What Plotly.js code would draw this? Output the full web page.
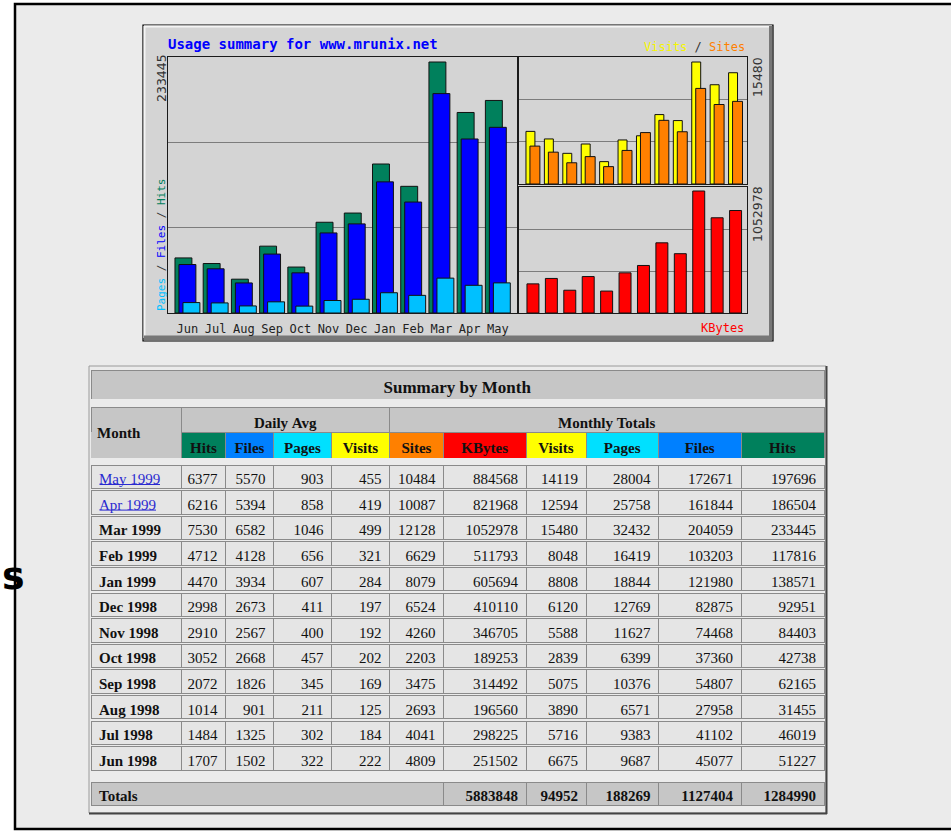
<!DOCTYPE html>
<html><head><meta charset="utf-8">
<script src="https://cdn.plot.ly/plotly-3.0.1.min.js"></script>
<style>html,body{margin:0;padding:0;background:#fff;overflow:hidden}#chart{width:951px;height:835px}</style>
</head><body><div id="chart"></div>
<script>
// ---- data (chart order: Jun 1998 .. May 1999) ----
const months = ['Jun','Jul','Aug','Sep','Oct','Nov','Dec','Jan','Feb','Mar','Apr','May'];
const hits   = [51227, 46019, 31455, 62165, 42738, 84403, 92951, 138571, 117816, 233445, 186504, 197696];
const files  = [45077, 41102, 27958, 54807, 37360, 74468, 82875, 121980, 103203, 204059, 161844, 172671];
const pages  = [9687, 9383, 6571, 10376, 6399, 11627, 12769, 18844, 16419, 32432, 25758, 28004];
const visits = [6675, 5716, 3890, 5075, 2839, 5588, 6120, 8808, 8048, 15480, 12594, 14119];
const sites  = [4809, 4041, 2693, 3475, 2203, 4260, 6524, 8079, 6629, 12128, 10087, 10484];
const kbytes = [251502, 298225, 196560, 314492, 189253, 346705, 410110, 605694, 511793, 1052978, 821968, 884568];

// ---- table data (table order: May 1999 .. Jun 1998) ----
const tableMonths = ['May 1999','Apr 1999','Mar 1999','Feb 1999','Jan 1999','Dec 1998','Nov 1998','Oct 1998','Sep 1998','Aug 1998','Jul 1998','Jun 1998'];
const linkedMonths = 2;
const dailyHits   = [6377, 6216, 7530, 4712, 4470, 2998, 2910, 3052, 2072, 1014, 1484, 1707];
const dailyFiles  = [5570, 5394, 6582, 4128, 3934, 2673, 2567, 2668, 1826, 901, 1325, 1502];
const dailyPages  = [903, 858, 1046, 656, 607, 411, 400, 457, 345, 211, 302, 322];
const dailyVisits = [455, 419, 499, 321, 284, 197, 192, 202, 169, 125, 184, 222];
const colHeaders = ['Hits','Files','Pages','Visits','Sites','KBytes','Visits','Pages','Files','Hits'];
const groupHeaders = ['Daily Avg','Monthly Totals'];
const totals = [5883848, 94952, 188269, 1127404, 1284990];
const chartTitle = 'Usage summary for www.mrunix.net';
const tableTitle = 'Summary by Month';

// ---- helpers ----
const W = 951, H = 835;
const fx = x => x / W, fy = y => 1 - y / H;
const idx = months.map((m, i) => i);
const rev = a => a.slice().reverse();
const nb = s => String(s).replace(/ /g, '\u00a0');
const MONO = 'DejaVu Sans Mono', SERIF = 'Liberation Serif';
const C = {hits:'#00805c', files:'#0000ff', pages:'#00c0ff', visits:'#ffff00', sites:'#ff8000', kb:'#ff0000',
           tFiles:'#0080ff', tPages:'#00e0ff', hdr:'#c6c6c6', cell:'#e5e5e5', page:'#ebebeb', line:'#8a8a8a',
           link:'#2a2ad0', text:'#111'};

const maxHits = Math.max(...hits), maxVisits = Math.max(...visits), maxKB = Math.max(...kbytes);
const barLine = {color:'#111', width:1};

function bar(y, xa, ya, off, w, color) {
  return {type:'bar', x: idx, y: y, xaxis: xa, yaxis: ya, offset: off, width: w,
          marker:{color: color, line: barLine}, hoverinfo:'skip'};
}

const traces = [
  bar(hits,  'x', 'y', -0.30, 0.60, C.hits),
  bar(files, 'x', 'y', -0.159, 0.60, C.files),
  bar(pages, 'x', 'y', -0.017, 0.60, C.pages),
  bar(visits,'x2','y2', -0.30, 0.486, C.visits),
  bar(sites, 'x2','y2', -0.084, 0.54, C.sites),
  bar(kbytes,'x3','y3', -0.246, 0.65, C.kb)
];

// ---- tables ----
const colW = [90.5, 44, 48, 58, 58, 54, 82.5, 60, 72.5, 82.5, 83];
const tX = [fx(91), fx(824)];
const sum = a => a.reduce((s, v) => s + v, 0);
function rowTable(top, h, widths, values, opts) {
  return {type:'table', domain:{x:tX, y:[fy(top + h + 2), fy(top)]}, columnwidth: widths,
    header: Object.assign({values: values, height: h, align:'center',
      fill:{color:C.hdr}, line:{color:C.line, width:1},
      font:{family:SERIF, size:15, color:C.text}}, opts || {})};
}

traces.push(rowTable(370, 27, [1], ['<b>' + nb(tableTitle) + '</b>'], {font:{family:SERIF, size:17, color:C.text}}));
traces.push(rowTable(407, 25, [colW[0], sum(colW.slice(1,5)), sum(colW.slice(5))],
  ['', '<b>' + nb(groupHeaders[0]) + '</b>', '<b>' + nb(groupHeaders[1]) + '</b>']));
traces.push(rowTable(432, 25, colW, [''].concat(colHeaders.map(h => '<b>' + h + '</b>')),
  {fill:{color:[C.hdr, C.hits, C.tFiles, C.tPages, C.visits, C.sites, C.kb, C.visits, C.tPages, C.tFiles, C.hits]},
   line:{color:[C.hdr].concat(colHeaders.map(() => C.line)), width:1}}));

const dataCols = [tableMonths, dailyHits, dailyFiles, dailyPages, dailyVisits,
                  rev(sites), rev(kbytes), rev(visits), rev(pages), rev(files), rev(hits)];
const rowAlign = ['left'].concat(colHeaders.map(() => 'right'));
tableMonths.forEach((m, r) => {
  const linked = r < linkedMonths;
  const vals = dataCols.map((col, c) => c === 0 ? nb(m) : String(col[r]));
  traces.push(rowTable(465 + r * 25.6, 23.5, colW, vals, {
    align: rowAlign, fill:{color:C.cell},
    font:{family:SERIF, size:15,
          color:[linked ? C.link : C.text].concat(colHeaders.map(() => C.text)),
          weight:[linked ? 'normal' : 'bold'].concat(colHeaders.map(() => 'normal'))}}));
});

traces.push(rowTable(782, 23, [sum(colW.slice(0,6))].concat(colW.slice(6)),
  ['Totals'].concat(totals.map(t => String(t))),
  {align:['left','right','right','right','right','right'], font:{family:SERIF, size:15, color:C.text, weight:'bold'}}));

// ---- layout ----
const gridCol = '#7c7c7c', frameCol = '#1a1a1a';
const baseX = {showgrid:false, zeroline:false, showline:true, mirror:true, linecolor:frameCol, linewidth:1, ticks:'', fixedrange:true};
const yL = maxHits * 256 / 251, yV = maxVisits * 127 / 122, yK = maxKB * 126 / 122;
function yax(dom, R) {
  return {domain: dom, range:[0, R], tickvals:[R/3, 2*R/3], showticklabels:false, showgrid:true,
          gridcolor:gridCol, gridwidth:1, zeroline:false, showline:true, mirror:true, linecolor:frameCol, ticks:'', fixedrange:true};
}
const P = (o) => Object.assign({xref:'paper', yref:'paper'}, o);
const shapes = [
  P({type:'rect', x0:fx(15), x1:fx(975), y0:fy(829), y1:fy(4), fillcolor:C.page, line:{color:'#000', width:2.5}, layer:'below'}),
  P({type:'rect', x0:fx(143), x1:fx(773), y0:fy(341), y1:fy(25), fillcolor:'#d4d4d4', line:{color:'#000', width:1.2}, layer:'below'}),
  P({type:'line', x0:fx(144), x1:fx(772), y0:fy(26.5), y1:fy(26.5), line:{color:'#f4f4f4', width:2}, layer:'below'}),
  P({type:'line', x0:fx(144.5), x1:fx(144.5), y0:fy(26), y1:fy(338), line:{color:'#f4f4f4', width:2}, layer:'below'}),
  P({type:'line', x0:fx(144), x1:fx(772), y0:fy(338), y1:fy(338), line:{color:'#777', width:5}, layer:'below'}),
  P({type:'line', x0:fx(770.5), x1:fx(770.5), y0:fy(26), y1:fy(340), line:{color:'#777', width:3}, layer:'below'}),
  P({type:'rect', x0:fx(89), x1:fx(826), y0:fy(813), y1:fy(366), fillcolor:'rgba(0,0,0,0)', line:{color:'#9a9a9a', width:1}}),
  P({type:'line', x0:fx(826.5), x1:fx(826.5), y0:fy(366), y1:fy(814), line:{color:'#444', width:2}}),
  P({type:'line', x0:fx(89), x1:fx(827), y0:fy(813.5), y1:fy(813.5), line:{color:'#444', width:2}}),
  // link underlines
  P({type:'line', x0:fx(99.5), x1:fx(160), y0:fy(484.5), y1:fy(484.5), line:{color:C.link, width:1}}),
  P({type:'line', x0:fx(99.5), x1:fx(156), y0:fy(510.1), y1:fy(510.1), line:{color:C.link, width:1}})
];

const ann = (o) => Object.assign({xref:'paper', yref:'paper', showarrow:false, xanchor:'center', yanchor:'middle'}, o);
const annotations = [
  ann({x:fx(166), y:fy(44), xanchor:'left', text:'<b>' + chartTitle + '</b>', font:{family:MONO, size:14, color:'#0000ff'}}),
  ann({x:fx(747), y:fy(47), xanchor:'right', font:{family:MONO, size:12, color:'#333'},
       text:'<span style="color:#f6f600">Visits</span> / <span style="color:#ff8000">Sites</span>'}),
  ann({x:fx(746), y:fy(328), xanchor:'right', text:'KBytes', font:{family:MONO, size:12, color:'#ff0000'}}),
  ann({x:fx(162), y:fy(245), textangle:-90, font:{family:MONO, size:11, color:'#333'},
       text:'<span style="color:#00c0ff">Pages</span> / <span style="color:#0000ff">Files</span> / <span style="color:#00805c">Hits</span>'}),
  ann({x:fx(161), y:fy(78), textangle:-90, text:String(maxHits), font:{family:'DejaVu Sans', size:12.5, color:'#333'}}),
  ann({x:fx(757), y:fy(77), textangle:-90, text:String(maxVisits), font:{family:'DejaVu Sans', size:12.5, color:'#333'}}),
  ann({x:fx(757), y:fy(214), textangle:-90, text:String(maxKB), font:{family:'DejaVu Sans', size:12.5, color:'#333'}}),
  ann({x:fx(95), y:fy(433), xanchor:'left', text:'<b>Month</b>', font:{family:SERIF, size:15, color:C.text}}),
  ann({x:0, y:fy(576), xanchor:'left', text:'<b>s</b>', font:{family:'DejaVu Sans', size:38, color:'#000'}})
];

const layout = {
  width:W, height:H, margin:{l:0, r:0, t:0, b:0}, paper_bgcolor:'#ffffff', plot_bgcolor:'#d0d0d0',
  showlegend:false, barmode:'overlay',
  xaxis: Object.assign({}, baseX, {domain:[fx(168), fx(517)], range:[-0.547, 11.82], anchor:'y',
    tickvals: idx.map(i => i + 0.14), ticktext: months, showticklabels:true, ticklabelstandoff:5,
    tickfont:{family:MONO, size:12, color:'#222'}}),
  yaxis: Object.assign(yax([fy(313), fy(57)], yL), {anchor:'x'}),
  xaxis2: Object.assign({}, baseX, {domain:[fx(519), fx(747)], range:[-0.678, 11.70], anchor:'y2', showticklabels:false}),
  yaxis2: Object.assign(yax([fy(184), fy(57)], yV), {anchor:'x2'}),
  xaxis3: Object.assign({}, baseX, {domain:[fx(519), fx(747)], range:[-0.678, 11.70], anchor:'y3', showticklabels:false}),
  yaxis3: Object.assign(yax([fy(313), fy(187)], yK), {anchor:'x3'}),
  shapes: shapes, annotations: annotations
};

Plotly.newPlot('chart', traces, layout, {displayModeBar:false, staticPlot:true});
</script></body></html>
